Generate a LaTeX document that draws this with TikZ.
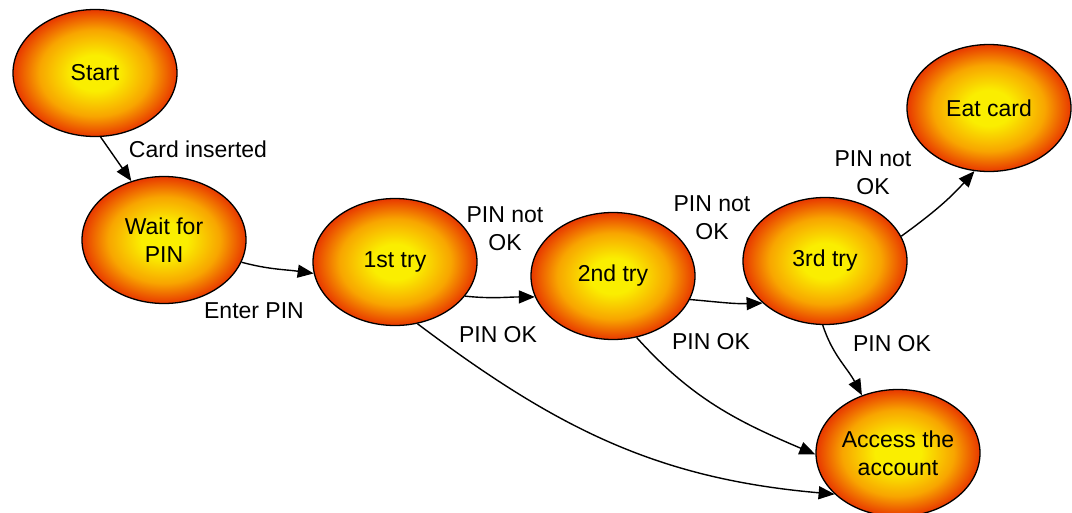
\documentclass[tikz,border=0pt]{standalone}
\usepackage{fontspec}
\setmainfont{Liberation Sans}
\usetikzlibrary{shapes.geometric,arrows.meta}

% glowing state fill: yellow core fading to orange-red rim
% (the node outline maps to radius 25bp of the shading)
\definecolor{glowA}{RGB}{250,238,0}
\definecolor{glowB}{RGB}{248,165,0}
\definecolor{glowC}{RGB}{232,56,0}
\pgfdeclareradialshading{glow}{\pgfpoint{0bp}{0bp}}{%
  color(0bp)=(glowA); color(7bp)=(glowA); color(17bp)=(glowB);
  color(25bp)=(glowC); color(50bp)=(glowC)}

\begin{document}
\begin{tikzpicture}[x=1pt,y=1pt,
  state/.style={ellipse, draw=black, line width=1.3pt, shading=glow,
    minimum width=164pt, minimum height=127pt, inner sep=0pt,
    align=center, font=\fontsize{23}{28}\selectfont},
  lbl/.style={align=center, inner sep=0pt, font=\fontsize{23}{28}\selectfont},
  trans/.style={line width=1.4pt, -{Triangle[length=16pt,width=13pt]}}]
\useasboundingbox (0,0) rectangle (1072,-512);

% states
\node[state] (start) at (95,-73)  {Start};
\node[state] (wait)  at (164,-240) {Wait for\\PIN};
\node[state] (try1)  at (395,-262) {1st try};
\node[state] (try2)  at (613,-276) {2nd try};
\node[state] (try3)  at (825,-261) {3rd try};
\node[state] (eat)   at (989,-108) {Eat card};
\node[state] (acc)   at (898,-453) {Access the\\account};

% transitions
\draw[trans] (start.275) -- (wait.119);
\draw[trans] (wait.344) to[out=-15,in=172] (try1.188);
\draw[trans] (try1.334) to[out=-6,in=180] (try2.195);
\draw[trans] (try2.343) to[out=-5,in=182] (try3.214);
\draw[trans] (try3.18) to[out=36,in=228] (eat.257);
\draw[trans] (try1.290) to[out=-37,in=175] (acc.213);
\draw[trans] (try2.291) to[out=-48,in=157] (acc.181);
\draw[trans] (try3.268) to[out=-72,in=118] (acc.122);

% transition labels
\node[lbl] (lcard)  at (198,-149) {Card inserted};
\node[lbl] (lenter) at (254,-311) {Enter PIN};
\node[lbl] (lno1)   at (505,-229) {PIN not\\OK};
\node[lbl] (lno2)   at (712,-218) {PIN not\\OK};
\node[lbl] (lno3)   at (873,-173) {PIN not\\OK};
\node[lbl] (lok1)   at (498,-335) {PIN OK};
\node[lbl] (lok2)   at (711,-342) {PIN OK};
\node[lbl] (lok3)   at (892,-344) {PIN OK};
\end{tikzpicture}
\end{document}
